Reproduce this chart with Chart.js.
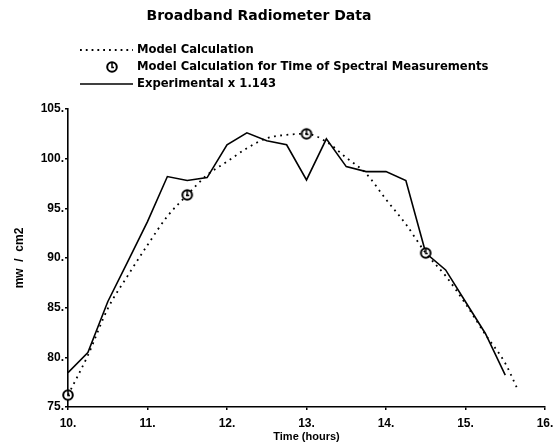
<!DOCTYPE html>
<html>
<head>
<meta charset="utf-8">
<script src="https://cdn.jsdelivr.net/npm/chart.js@4/dist/chart.umd.min.js"></script>
<style>
  html, body { margin: 0; padding: 0; background: #fff; }
  #wrap { width: 560px; height: 447px; }
</style>
</head>
<body>
<div id="wrap"><canvas id="myChart" width="560" height="447"></canvas></div>
<script>
// time of day, hours
var expHours = [10.0, 10.25, 10.5, 10.75, 11.0, 11.25, 11.5, 11.75, 12.0, 12.25, 12.5, 12.75,
                13.0, 13.25, 13.5, 13.75, 14.0, 14.25, 14.5, 14.75, 15.0, 15.25, 15.5];
var expValues = [78.45, 80.47, 85.6, 89.6, 93.66, 98.2, 97.8, 98.1, 101.4, 102.6, 101.8, 101.4,
                 97.86, 102.0, 99.2, 98.7, 98.7, 97.8, 90.5, 88.8, 85.6, 82.4, 78.2];

var modelHours = [10.0, 10.25, 10.5, 10.75, 11.0, 11.25, 11.5, 11.75, 12.0, 12.25, 12.5, 12.75,
                  13.0, 13.25, 13.5, 13.75, 14.0, 14.25, 14.5, 14.75, 15.0, 15.25, 15.5, 15.66];
var modelValues = [76.2, 80.2, 84.9, 88.2, 91.3, 94.2, 96.35, 98.36, 99.7, 101.05, 102.06, 102.4,
                   102.5, 101.7, 100.1, 98.5, 95.9, 93.4, 90.5, 88.2, 85.4, 82.3, 79.4, 76.7];

var spectralHours = [10.0, 11.5, 13.0, 14.5];
var spectralValues = [76.2, 96.35, 102.5, 90.5];

var xTicks = [10, 11, 12, 13, 14, 15, 16];
var yTicks = [75, 80, 85, 90, 95, 100, 105];

var titleText = 'Broadband Radiometer Data';
var legendLabels = ['Model Calculation', 'Model Calculation for Time of Spectral Measurements', 'Experimental x 1.143'];

var FONT = '"Liberation Sans", Arial, sans-serif';
var HEAD_FONT = '"DejaVu Sans", sans-serif';

function toPoints(xs, ys) {
  return xs.map(function (x, i) { return {x: x, y: ys[i]}; });
}

// little clock-face marker
function makeMarker() {
  var c = document.createElement('canvas');
  c.width = 14; c.height = 14;
  var g = c.getContext('2d');
  g.strokeStyle = '#000';
  g.lineWidth = 2;
  g.fillStyle = '#fff';
  g.beginPath();
  g.arc(7, 7, 4.8, 0, Math.PI * 2);
  g.fill();
  g.stroke();
  g.lineWidth = 1.5;
  g.beginPath();
  g.moveTo(7, 3);
  g.lineTo(7, 7.5);
  g.lineTo(9, 7.5);
  g.stroke();
  return c;
}
var marker = makeMarker();

// title + legend drawn in the header area
var headerPlugin = {
  id: 'header',
  afterDraw: function (chart) {
    var ctx = chart.ctx;
    ctx.save();
    ctx.fillStyle = '#000';
    ctx.strokeStyle = '#000';
    ctx.textBaseline = 'middle';
    ctx.textAlign = 'center';
    ctx.font = 'bold 14px ' + HEAD_FONT;
    ctx.fillText(titleText, 259, 16);

    ctx.textAlign = 'left';
    ctx.font = 'bold 11.6px ' + HEAD_FONT;
    var rows = [50, 67, 84];
    // dotted sample
    ctx.lineWidth = 1.8;
    ctx.setLineDash([1.8, 4]);
    ctx.beginPath(); ctx.moveTo(80, rows[0]); ctx.lineTo(133, rows[0]); ctx.stroke();
    ctx.setLineDash([]);
    // marker sample
    ctx.drawImage(marker, 105, rows[1] - 7);
    // solid sample
    ctx.lineWidth = 1.6;
    ctx.beginPath(); ctx.moveTo(80, rows[2]); ctx.lineTo(133, rows[2]); ctx.stroke();

    for (var i = 0; i < legendLabels.length; i++) {
      ctx.fillText(legendLabels[i], 137, rows[i]);
    }
    ctx.restore();
  }
};

var ctx_chart = document.getElementById('myChart');

var data_chart = {
  datasets: [{
      label: legendLabels[0],
      data: toPoints(modelHours, modelValues),
      borderColor: '#000',
      borderWidth: 1.8,
      borderDash: [1.8, 4.5],
      pointRadius: 0,
      cubicInterpolationMode: 'monotone',
      fill: false,
      clip: false
    }, {
      label: legendLabels[1],
      data: toPoints(spectralHours, spectralValues),
      showLine: false,
      pointStyle: marker,
      pointRadius: 6,
      clip: false
    }, {
      label: legendLabels[2],
      data: toPoints(expHours, expValues),
      borderColor: '#000',
      borderWidth: 1.6,
      pointRadius: 0,
      tension: 0,
      fill: false
  }]
};

var options_chart = {
  responsive: false,
  animation: false,
  layout: {
    padding: { left: 0, right: 15, top: 109, bottom: 0 }
  },
  plugins: {
    legend: { display: false },
    title: { display: false },
    tooltip: { enabled: false }
  },
  scales: {
    x: {
      type: 'linear',
      min: 10,
      max: 16,
      afterFit: function (scale) { scale.height = 40; },
      afterBuildTicks: function (scale) {
        scale.ticks = xTicks.map(function (v) { return {value: v}; });
      },
      ticks: {
        color: '#000',
        padding: 6,
        maxRotation: 0,
        font: { family: FONT, size: 12, weight: 'bold' },
        callback: function (v) { return v + '.'; }
      },
      grid: { drawOnChartArea: false, tickLength: 3, color: '#000', lineWidth: 1.5 },
      border: { display: true, color: '#000', width: 1.6 },
      title: {
        display: true,
        text: 'Time (hours)',
        color: '#000',
        font: { family: FONT, size: 11, weight: 'bold' },
        padding: { top: 0, bottom: 3 }
      }
    },
    y: {
      type: 'linear',
      min: 75,
      max: 105,
      afterFit: function (scale) { scale.width = 68; },
      afterBuildTicks: function (scale) {
        scale.ticks = yTicks.map(function (v) { return {value: v}; });
      },
      ticks: {
        color: '#000',
        padding: 1,
        font: { family: FONT, size: 12, weight: 'bold' },
        callback: function (v) { return v + '.'; }
      },
      grid: { drawOnChartArea: false, tickLength: 3, color: '#000', lineWidth: 1.5 },
      border: { display: true, color: '#000', width: 1.6 },
      title: {
        display: true,
        text: 'mw  /  cm2',
        color: '#000',
        font: { family: FONT, size: 12, weight: 'bold' },
        padding: { top: 12, bottom: 0 }
      }
    }
  }
};

var myChart = new Chart(ctx_chart, {
  type: 'line',
  data: data_chart,
  options: options_chart,
  plugins: [headerPlugin]
});
</script>
</body>
</html>
